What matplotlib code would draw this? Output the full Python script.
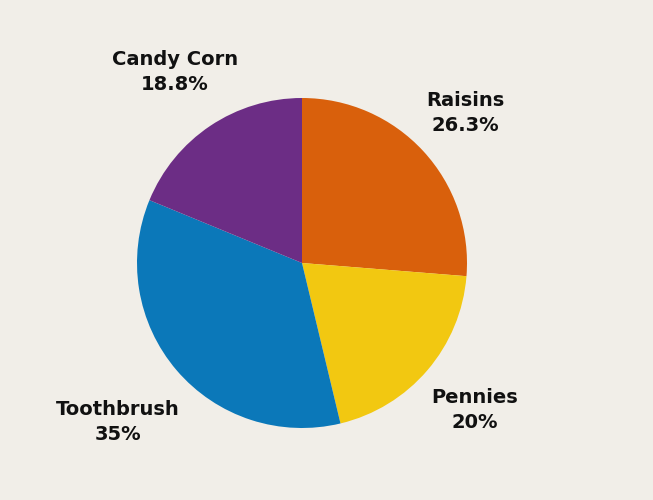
import matplotlib.pyplot as plt

labels = ["Raisins", "Pennies", "Toothbrush", "Candy Corn"]
values = [26.3, 20, 35, 18.8]
pct_text = ["26.3%", "20%", "35%", "18.8%"]
colors = ["#d9600c", "#f2c811", "#0b78b9", "#6c2d85"]
# label anchor positions in figure pixels (x, y from top)
label_pos = [(465, 113), (475, 410), (118, 422), (175, 72)]

W, H = 653, 500
fig = plt.figure(figsize=(W / 100, H / 100), dpi=100)
fig.patch.set_facecolor("#f1eee8")

cx, cy, r = 302, 263, 165
ax = fig.add_axes([(cx - r) / W, (H - cy - r) / H, 2 * r / W, 2 * r / H])
ax.pie(values, colors=colors, startangle=90, counterclock=False,
       wedgeprops=dict(linewidth=0))
ax.set_xlim(-1, 1)
ax.set_ylim(-1, 1)
ax.set_aspect("equal")

for lab, pct, (x, y) in zip(labels, pct_text, label_pos):
    fig.text(x / W, 1 - y / H, lab + "\n" + pct, ha="center", va="center",
             fontsize=14, fontweight="bold", color="#111111", linespacing=1.4)

fig.savefig("out.png", dpi=100, facecolor=fig.get_facecolor())
